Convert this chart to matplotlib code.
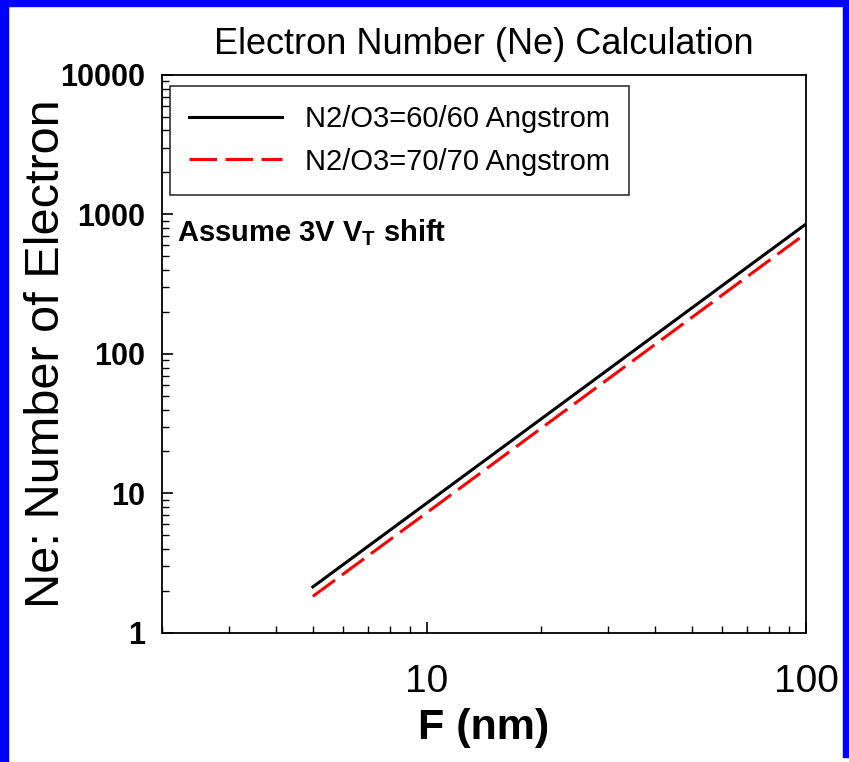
import matplotlib
matplotlib.use("Agg")
import matplotlib.pyplot as plt
from matplotlib.patches import Rectangle
from matplotlib.ticker import LogLocator, FixedLocator, NullFormatter

plt.rcParams['font.family'] = ['Liberation Sans', 'DejaVu Sans']
plt.rcParams['mathtext.fontset'] = 'custom'
plt.rcParams['mathtext.rm'] = 'Liberation Sans'
plt.rcParams['mathtext.bf'] = 'Liberation Sans:bold'

# values (log-log, straight lines)
f_nm = [5, 10, 20, 50, 100]
ne_60 = [2.14, 8.55, 34.2, 214, 855]
ne_70 = [1.83, 7.3, 29.3, 183, 733]
labels = ["N2/O3=60/60 Angstrom", "N2/O3=70/70 Angstrom"]
x_ticks = [10, 100]
y_ticks = [1, 10, 100, 1000, 10000]

fig = plt.figure(figsize=(8.49, 7.62), dpi=100)
ax = fig.add_axes([0.1908, 0.1693, 0.7586, 0.7323])

ax.plot(f_nm, ne_60, color='black', lw=2.2, label=labels[0])
ax.plot(f_nm, ne_70, color='red', lw=2.2, linestyle=(0, (9, 2.8)), label=labels[1])

ax.set_xscale('log')
ax.set_yscale('log')
ax.set_xlim(2, 100)
ax.set_ylim(1, 10000)

ax.xaxis.set_major_locator(FixedLocator(x_ticks))
ax.yaxis.set_major_locator(FixedLocator(y_ticks))
ax.xaxis.set_minor_locator(LogLocator(base=10, subs=range(2, 10)))
ax.yaxis.set_minor_locator(LogLocator(base=10, subs=range(2, 10)))
ax.xaxis.set_minor_formatter(NullFormatter())
ax.yaxis.set_minor_formatter(NullFormatter())
ax.set_xticklabels([str(t) for t in x_ticks], fontsize=28)
ax.set_yticklabels([str(t) for t in y_ticks], fontsize=22, fontweight='bold')

ax.tick_params(which='major', direction='in', length=8, width=1.2)
ax.tick_params(which='minor', direction='in', length=5, width=1.0)
ax.tick_params(axis='x', which='major', pad=22)
ax.tick_params(axis='y', which='major', pad=12)
ax.tick_params(top=False, right=False, which='both')
for s in ax.spines.values():
    s.set_linewidth(1.3)

ax.set_xlabel("F (nm)", fontsize=31, fontweight='bold', labelpad=6)
ax.set_ylabel("Ne: Number of Electron", fontsize=35, labelpad=-6)
ax.set_title("Electron Number (Ne) Calculation", fontsize=26, pad=15)

leg = ax.legend(loc='upper left', bbox_to_anchor=(0.012, 0.98), fontsize=21,
                frameon=True, fancybox=False, edgecolor='black',
                handlelength=3.2, handletextpad=0.8, borderpad=0.65,
                labelspacing=0.5, borderaxespad=0)
leg.get_frame().set_linewidth(1.2)

ax.text(0.024, 0.718, r"Assume 3V V$_\mathbf{T}$ shift", transform=ax.transAxes,
        fontsize=21, fontweight='bold', va='center', ha='left')

# blue frame around the slide
W, H = 849, 762
blue = '#0000ff'
for x0, y0, w, h in [(0, 0, 8, H), (0, H - 6, W, 6), (843, H - 757, 6, 757)]:
    fig.patches.append(Rectangle((x0 / W, y0 / H), w / W, h / H,
                                 transform=fig.transFigure, color=blue, zorder=10))

fig.savefig("out.png", dpi=100)
